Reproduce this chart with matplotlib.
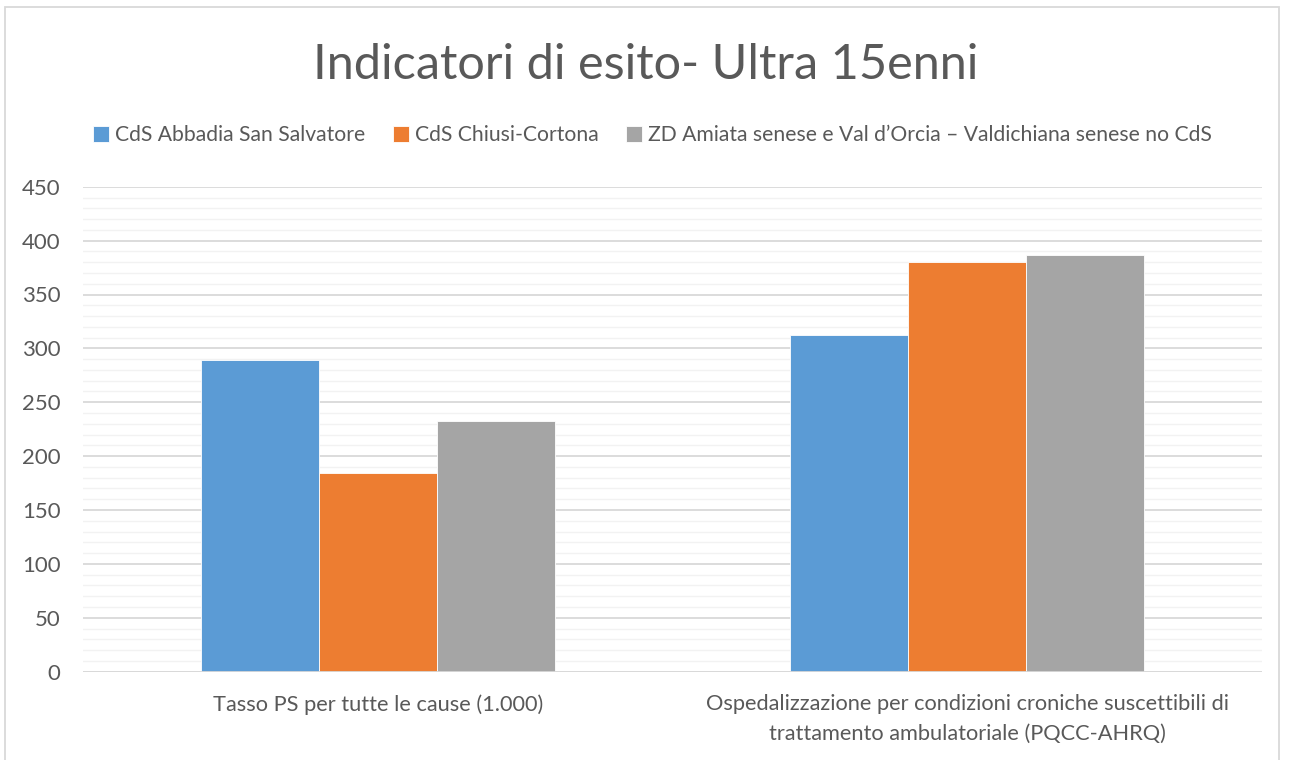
import numpy as np
import matplotlib.pyplot as plt
from matplotlib.patches import Rectangle

plt.rcParams['font.family'] = ['Lato', 'DejaVu Sans']

# dati
categorie = ['Tasso PS per tutte le cause (1.000)',
             'Ospedalizzazione per condizioni croniche suscettibili di\ntrattamento ambulatoriale (PQCC-AHRQ)']
serie = ['CdS Abbadia San Salvatore',
         'CdS Chiusi-Cortona',
         'ZD Amiata senese e Val d\u2019Orcia \u2013 Valdichiana senese no CdS']
abbadia = [289, 312]
chiusi = [184, 380]
amiata = [233, 387]
colori = ['#5b9bd5', '#ed7d31', '#a5a5a5']

testo = '#595959'

fig = plt.figure(figsize=(12.92, 7.6), dpi=100)
ax = fig.add_axes([0.0642, 0.1162, 0.9126, 0.6381])

x = np.arange(len(categorie))
w = 0.2
for i, (vals, col, lab) in enumerate(zip([abbadia, chiusi, amiata], colori, serie)):
    ax.bar(x + (i - 1) * w, vals, width=w, color=col, label=lab, zorder=3,
           edgecolor='white', linewidth=0.6)

ax.set_xlim(-0.5, 1.5)
ax.set_ylim(0, 450)
ax.set_yticks(np.arange(0, 451, 50))
ax.set_yticks(np.arange(0, 451, 10), minor=True)
ax.grid(axis='y', which='major', color='#d9d9d9', linewidth=1.3, zorder=0)
ax.grid(axis='y', which='minor', color='#f2f2f2', linewidth=1.0, zorder=0)
ax.tick_params(axis='y', which='both', length=0, labelsize=16, labelcolor=testo, pad=16)
ax.tick_params(axis='x', length=0, labelsize=15.7, labelcolor=testo, pad=16)
ax.set_xticks(x)
ax.set_xticklabels(categorie, linespacing=1.65)
for s in ax.spines.values():
    s.set_visible(False)
ax.axhline(0, color='#d9d9d9', linewidth=1.3, zorder=4)

fig.text(0.5, 0.915, 'Indicatori di esito- Ultra 15enni', ha='center', va='center',
         fontsize=35, fontweight='normal', color=testo)

fig.legend(loc='center', bbox_to_anchor=(0.505, 0.822), ncol=3, frameon=False,
           fontsize=15.2, labelcolor=testo, handlelength=0.75, handleheight=0.75,
           handletextpad=0.3, columnspacing=1.3)

# cornice del grafico
fig.patches.append(Rectangle((5 / 1292, -0.02), 1274 / 1292, 1.02 - 7 / 760,
                             transform=fig.transFigure, fill=False,
                             edgecolor='#d9d9d9', linewidth=1.3))

plt.savefig('out.png')
